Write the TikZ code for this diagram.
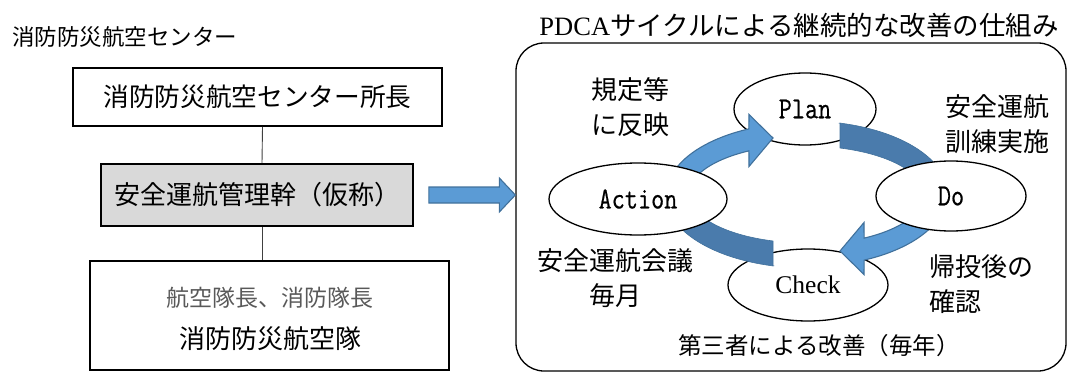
\documentclass[tikz,border=0pt]{standalone}
\usepackage{fontspec}
\setmainfont{Noto Sans CJK JP}
\newfontfamily\lserif{Liberation Serif}
\newfontfamily\lmono{Latin Modern Mono}[FakeBold=0.6]
\usetikzlibrary{shapes.geometric,calc}
\definecolor{lightblue}{HTML}{5B9BD5}
\definecolor{blueedge}{HTML}{41719C}
\definecolor{darkblue}{HTML}{4A7BAC}
\definecolor{boxgray}{HTML}{D9D9D9}
\definecolor{txtgray}{HTML}{595959}
\newcommand\monotxt[1]{\scalebox{1}[1.2]{\lmono\fontsize{25.5}{30}\selectfont #1}}
\begin{document}
\begin{tikzpicture}[x=1pt,y=-1pt,
  orgbox/.style={draw, line width=1.6pt, inner sep=0pt},
  phase/.style={ellipse, draw, line width=1.3pt, fill=white, inner sep=0pt},
  lightarr/.style={fill=lightblue, draw=blueedge, line width=1.1pt, line join=miter},
  darkband/.style={fill=darkblue, draw=blueedge, line width=0.6pt},
  jt/.style={font=\fontsize{26}{35}\selectfont, inner sep=0pt},
  conn/.style={draw=black!75, line width=0.9pt}]

\useasboundingbox (0,0) rectangle (1069,372);

% ---------- left: organisation ----------
\node[font=\fontsize{22.5}{26}\selectfont, anchor=west, inner sep=0pt] (ttl) at (12,37) {消防防災航空センター};
\node[orgbox, minimum width=369pt, minimum height=58pt, font=\fontsize{25.7}{30}\selectfont] (b1) at (257.5,97) {消防防災航空センター所長};
\node[orgbox, fill=boxgray, minimum width=312pt, minimum height=62pt, font=\fontsize{26}{30}\selectfont] (b2) at (257,195) {安全運航管理幹（仮称）};
\node[orgbox, minimum width=359pt, minimum height=109pt] (b3) at (269.5,315.5) {};
\node[font=\fontsize{23}{26}\selectfont, text=txtgray, inner sep=0pt] (b3a) at (269.5,298) {航空隊長、消防隊長};
\node[font=\fontsize{26}{30}\selectfont, inner sep=0pt] (b3b) at (270,339) {消防防災航空隊};

\draw[conn] ([xshift=5pt]b1.south) -- ([xshift=5pt]b2.north);
\draw[conn] ([xshift=5pt]b2.south) -- ([xshift=5pt]b2.south |- b3.north);

% ---------- right: PDCA ----------
\node[font=\fontsize{26.5}{30}\selectfont, inner sep=0pt] (ptitle) at (799,25) {{\lserif PDCA}サイクルによる継続的な改善の仕組み};
\node[draw, line width=1.3pt, rounded corners=28pt, minimum width=550pt, minimum height=328pt] (frame) at (791,207) {};

% big arrow from b2 to frame
\coordinate (tipL) at (frame.west |- b2.east);
\coordinate (tailL) at ([xshift=15pt]b2.east);
\draw[lightarr] ($(tailL)+(0,-8)$) -- ($(tipL)+(-16,-8)$) -- ($(tipL)+(-16,-17)$) -- (tipL)
  -- ($(tipL)+(-16,17)$) -- ($(tipL)+(-16,8)$) -- ($(tailL)+(0,8)$) -- cycle;

% ellipses below arrows
\node[phase, minimum width=142pt, minimum height=72pt] (plan) at (805,109) {\monotxt{Plan}};
\node[phase, minimum width=160pt, minimum height=72pt, font=\lserif\fontsize{25.5}{30}\selectfont] (check) at (808,285) {Check};

% cycle arrows
\foreach \r in {0,180}{
  \begin{scope}[shift={(806.5,194.5)}, rotate=\r]
    \draw[darkband] (33.5,-46.5) -- (33.5,-71.5)
      -- plot[domain=-76.4:0, samples=40] ({141.5*cos(\x)},{73.5*sin(\x)})
      -- plot[domain=0:-73.3, samples=40] ({117*cos(\x)},{48.5*sin(\x)}) -- cycle;
    \draw[lightarr] (-140,0)
      -- plot[domain=-180:-114.3, samples=40] ({140*cos(\x)},{72*sin(\x)})
      -- (-57.5,-80) -- (-33.5,-56.5) -- (-57.5,-28)
      -- plot[domain=-119.2:-180, samples=40] ({118*cos(\x)},{50*sin(\x)}) -- cycle;
  \end{scope}
}

% ellipses above arrows
\node[phase, minimum width=178pt, minimum height=72pt] (action) at (638,199) {\monotxt{Action}};
\node[phase, minimum width=150pt, minimum height=70pt] (do) at (951,196) {\monotxt{Do}};

% labels
\node[jt, align=left] (l1) at (630,107) {規定等\\に反映};
\node[jt, align=left] (l2) at (997,124.5) {安全運航\\訓練実施};
\node[jt, align=center] (l3) at (615,278.5) {安全運航会議\\毎月};
\node[jt, align=left] (l4) at (981,284) {帰投後の\\確認};
\node[font=\fontsize{23.5}{28}\selectfont, inner sep=0pt] (l5) at (819,346) {第三者による改善（毎年）};
\end{tikzpicture}
\end{document}
